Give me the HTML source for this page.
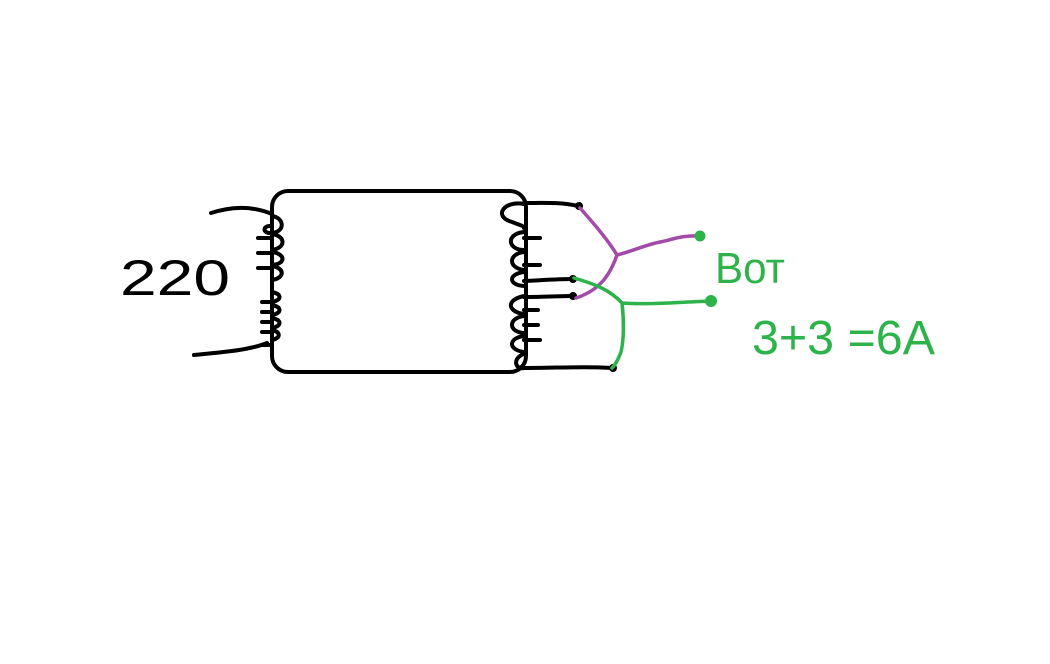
<!DOCTYPE html>
<html><head><style>html,body{margin:0;padding:0;background:#fff;}svg{display:block}</style></head>
<body>
<svg width="1050" height="664" viewBox="0 0 1050 664" xmlns="http://www.w3.org/2000/svg">
<rect width="1050" height="664" fill="#fff"/>
<g fill="none" stroke="#000" stroke-width="4" stroke-linecap="round" stroke-linejoin="round">
<rect x="272" y="191" width="254" height="181" rx="16"/>
<path d="M211 213 C230 207 250 205 272 214"/>
<path d="M194 355 C225 352 250 350 267 343"/>
<path d="M272 216 C285 218 285 232 272 233 C262 234 262 225 272 226 M272 234 C286 236 286 248 272 250 M272 252 C286 254 286 264 272 265 M272 266 C285 268 285 278 272 280 M272 292 C282 294 282 300 272 302 M272 305 C282 307 282 313 272 315 M272 318 C282 320 282 326 272 328 M272 330 C281 332 281 338 272 340"/>
<path d="M258 238 H272 M258 253 H272 M258 268 H272 M262 302 H272 M262 312 H272 M262 322 H272 M262 332 H272 M262 345 H272"/>
<path d="M524 204 C505 200 492 216 512 222 C520 225 524 226 524 228 M524 232 C505 234 508 250 524 250 M524 252 C508 254 508 268 524 270 M524 272 C508 274 508 285 524 286 M524 296 C505 300 508 312 524 314 M524 316 C508 318 508 332 524 333 M524 336 C508 338 508 350 524 352 M524 354 C512 358 515 370 524 368"/>
<path d="M524 238 H540 M524 265 H540 M524 310 H538 M524 325 H538 M524 340 H540"/>
<path d="M524 203 C545 203 560 202 578 206"/>
<path d="M524 281 C545 280 560 279 572 279"/>
<path d="M524 297 C545 297 560 296 572 296"/>
<path d="M524 368 C555 368 590 366 612 368"/>
</g>
<g fill="#000">
<circle cx="579" cy="206" r="4"/><circle cx="573" cy="279" r="4"/><circle cx="573" cy="296" r="4"/><circle cx="613" cy="368" r="4"/>
</g>
<g fill="none" stroke="#a24ba8" stroke-width="3.5" stroke-linecap="round" stroke-linejoin="round">
<path d="M580 208 C595 225 608 240 617 255 C610 275 600 290 576 298"/>
<path d="M617 255 C630 252 645 245 660 242 C672 240 680 235 700 236"/>
</g>
<g fill="none" stroke="#2db34a" stroke-width="3.5" stroke-linecap="round" stroke-linejoin="round">
<path d="M574 278 C595 284 610 290 622 303 C650 305 680 302 712 301"/>
<path d="M622 303 C624 320 624 340 621 352 C618 360 615 365 612 368"/>
</g>
<g fill="#2db34a"><circle cx="700" cy="236" r="5.5"/><circle cx="711" cy="301" r="6"/></g>
<g font-family="'Liberation Sans', sans-serif">
<text x="120" y="295" font-size="50" fill="#000" textLength="110" lengthAdjust="spacingAndGlyphs">220</text>
<text x="715" y="283" font-size="44" fill="#2db34a" textLength="70" lengthAdjust="spacingAndGlyphs">Вот</text>
<text x="752" y="354" font-size="48" fill="#2db34a" textLength="183" lengthAdjust="spacingAndGlyphs">3+3 =6А</text>
</g>
</svg>
</body></html>
